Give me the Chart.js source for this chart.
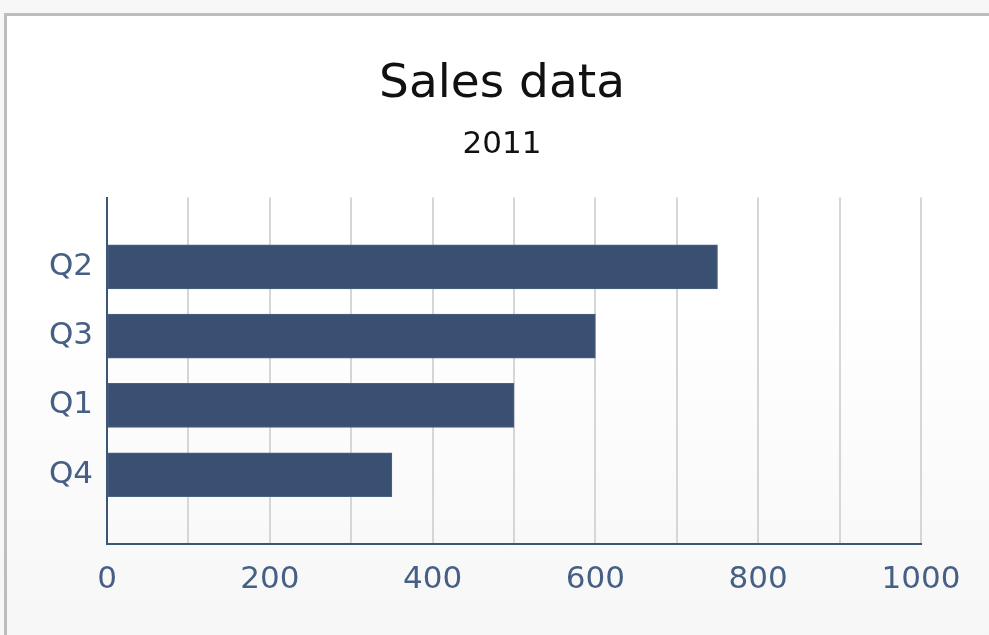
<!DOCTYPE html>
<html>
<head>
<meta charset="utf-8">
<script src="https://cdn.jsdelivr.net/npm/chart.js@4/dist/chart.umd.min.js"></script>
<style>
  html, body { margin: 0; padding: 0; background: #f7f7f7; }
  #frame {
    position: absolute; left: 4px; top: 13px; width: 1000px; height: 640px;
    border-left: 3px solid #bdbdbd; border-top: 3px solid #bdbdbd;
    background: linear-gradient(#ffffff 45%, #f6f6f6 100%);
  }
  #wrap { position: absolute; left: 0; top: 0; width: 989px; height: 635px; }
</style>
</head>
<body>
<div id="frame"></div>
<div id="wrap"><canvas id="salesChart"></canvas></div>
<script>
// Quarterly sales, 2011 (sorted as shown)
const quarters = ['Q2', 'Q3', 'Q1', 'Q4'];
const sales = [750, 600, 500, 350];
const xTicksShown = [0, 200, 400, 600, 800, 1000];

const axisBlue = '#3d5577';
const labelBlue = '#465f84';

const ctx = document.getElementById('salesChart').getContext('2d');
const salesChart = new Chart(ctx, {
    type: 'bar',
    data: {
        datasets: [{
            label: 'Sales',
            data: quarters.map((q, i) => ({ x: sales[i], y: i + 1 })),
            backgroundColor: '#3a5073',
            borderColor: '#4b6186',
            borderWidth: 1,
            borderSkipped: false,
            barThickness: 44
        }]
    },
    options: {
        indexAxis: 'y',
        responsive: true,
        maintainAspectRatio: false,
        animation: false,
        layout: { padding: { top: 0, left: 15, right: 0, bottom: 0 } },
        plugins: {
            legend: { display: false },
            tooltip: { enabled: false },
            title: {
                display: true,
                text: 'Sales data',
                color: '#111',
                font: { family: 'DejaVu Sans', size: 47, weight: 'normal' },
                padding: { top: 57, bottom: 13 }
            },
            subtitle: {
                display: true,
                text: '2011',
                color: '#111',
                font: { family: 'DejaVu Sans', size: 31, weight: 'normal' },
                padding: { top: 0, bottom: 34 }
            }
        },
        scales: {
            x: {
                type: 'linear',
                min: 0,
                max: 1000,
                grid: { color: '#d6d6d6', lineWidth: 2, drawTicks: false },
                border: { color: axisBlue, width: 2 },
                ticks: {
                    stepSize: 100,
                    padding: 17,
                    color: labelBlue,
                    maxRotation: 0,
                    autoSkip: false,
                    font: { family: 'DejaVu Sans', size: 31 },
                    callback: v => xTicksShown.includes(v) ? String(v) : ''
                },
                afterFit: scale => { scale.height = 91; scale.paddingRight = 68; }
            },
            y: {
                type: 'linear',
                offset: false,
                min: 0,
                max: quarters.length + 1,
                reverse: true,
                grid: { display: false, drawTicks: false, offset: false },
                border: { color: axisBlue, width: 2 },
                ticks: {
                    stepSize: 1,
                    padding: 14,
                    color: labelBlue,
                    font: { family: 'DejaVu Sans', size: 31 },
                    callback: v => quarters[v - 1] || ''
                },
                afterFit: scale => { scale.width = 92; }
            }
        }
    }
});
</script>
</body>
</html>
